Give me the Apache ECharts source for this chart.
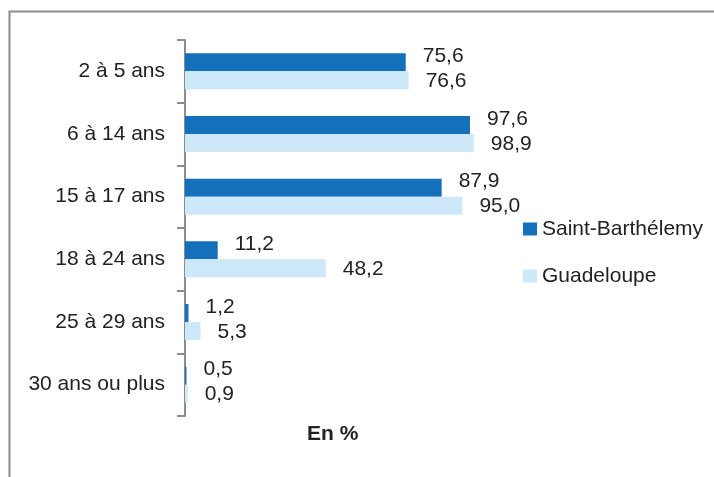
<!DOCTYPE html>
<html>
<head>
<meta charset="utf-8">
<script src="https://cdn.jsdelivr.net/npm/echarts@6/dist/echarts.min.js"></script>
<style>
  html, body { margin: 0; padding: 0; background: #fff; }
  #main { width: 714px; height: 477px; }
</style>
</head>
<body>
<div id="main"></div>
<script>
var categories = ['2 à 5 ans', '6 à 14 ans', '15 à 17 ans', '18 à 24 ans', '25 à 29 ans', '30 ans ou plus'];
var stBarth = [75.6, 97.6, 87.9, 11.2, 1.2, 0.5];
var guadeloupe = [76.6, 98.9, 95.0, 48.2, 5.3, 0.9];
var seriesNames = ['Saint-Barthélemy', 'Guadeloupe'];

var FONT = '"Liberation Sans", Arial, sans-serif';
var FS = 21;

function fmt(v) {
    return v.toFixed(1).replace('.', ',');
}

var myChart = echarts.init(document.getElementById('main'));
var option = {
    animation: false,
    textStyle: { fontFamily: FONT },
    graphic: [
        {
            // outer frame, open on right and bottom
            type: 'polyline',
            shape: { points: [[9.5, 477], [9.5, 11.5], [714, 11.5]] },
            style: { stroke: '#8c8c8c', lineWidth: 2, fill: null }
        },
        {
            type: 'text',
            left: 307,
            top: 424,
            style: { text: 'En %', font: 'bold 21px ' + FONT, fill: '#222' }
        }
    ],
    grid: { left: 185, top: 40, width: 292, height: 376 },
    legend: {
        orient: 'vertical',
        left: 518,
        top: 212,
        itemWidth: 14,
        itemHeight: 13,
        itemGap: 23,
        icon: 'rect',
        data: seriesNames,
        textStyle: { fontSize: FS, lineHeight: 24, color: '#222', fontFamily: FONT }
    },
    xAxis: {
        type: 'value',
        min: 0,
        max: 100,
        show: false
    },
    yAxis: {
        type: 'category',
        inverse: true,
        data: categories,
        axisLine: { show: true, lineStyle: { color: '#8c8c8c', width: 2 } },
        axisTick: { show: true, length: 8, alignWithLabel: false, lineStyle: { color: '#8c8c8c', width: 2 } },
        axisLabel: { fontSize: FS, color: '#222', margin: 20, fontFamily: FONT },
        splitLine: { show: false }
    },
    series: [
        {
            name: seriesNames[0],
            type: 'bar',
            data: stBarth,
            barWidth: 18,
            barGap: '0%',
            itemStyle: { color: '#1570bb' },
            label: {
                show: true,
                position: 'right',
                distance: 17,
                offset: [0, -6],
                fontSize: FS,
                color: '#222',
                fontFamily: FONT,
                formatter: function (p) { return fmt(p.value); }
            }
        },
        {
            name: seriesNames[1],
            type: 'bar',
            data: guadeloupe,
            barWidth: 18,
            barGap: '0%',
            itemStyle: { color: '#cde8f9' },
            label: {
                show: true,
                position: 'right',
                distance: 17,
                offset: [0, 1],
                fontSize: FS,
                color: '#222',
                fontFamily: FONT,
                formatter: function (p) { return fmt(p.value); }
            }
        }
    ]
};
myChart.setOption(option);
</script>
</body>
</html>
